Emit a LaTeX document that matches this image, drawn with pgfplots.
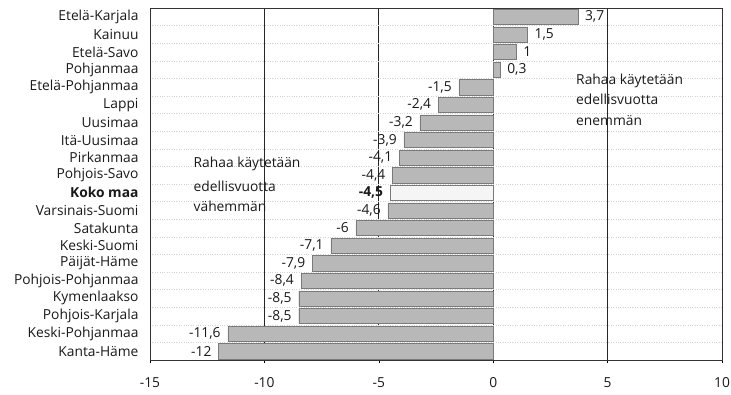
\documentclass[border=0pt]{standalone}
\usepackage{pgfplots}
\pgfplotsset{compat=1.18}
\usepackage{pgfplotstable}
\usepackage{fontspec}
\setmainfont{Open Sans}
\pgfplotstableread{
y x lab
0 3.7 {3,7}
1 1.5 {1,5}
2 1 {1}
3 0.3 {0,3}
}\pos
\pgfplotstableread{
y x lab
4 -1.5 {-1,5}
5 -2.4 {-2,4}
6 -3.2 {-3,2}
7 -3.9 {-3,9}
8 -4.1 {-4,1}
9 -4.4 {-4,4}
11 -4.6 {-4,6}
12 -6 {-6}
13 -7.1 {-7,1}
14 -7.9 {-7,9}
15 -8.4 {-8,4}
16 -8.5 {-8,5}
17 -8.5 {-8,5}
18 -11.6 {-11,6}
19 -12 {-12}
}\neg
\pgfplotstableread{
y x lab
10 -4.5 {-4,5}
}\koko
\definecolor{barfill}{HTML}{B8B8B8}
\definecolor{barline}{HTML}{7A7A7A}
\newcommand{\fs}{\fontsize{13.8}{15}\selectfont}
\begin{document}
\begin{tikzpicture}
\path[use as bounding box] (-150pt,-34pt) rectangle (581pt,360pt);
\begin{axis}[
  at={(0pt,0pt)}, anchor=south west,
  scale only axis, width=572pt, height=352pt,
  xmin=-15, xmax=10, ymin=-0.5, ymax=19.5,
  y dir=reverse,
  xbar, bar width=0.86, bar shift=0pt,
  xtick={-15,-10,-5,0,5,10},
  xticklabels={-15,-10,-5,0,5,10},
  ytick={0,...,19},
  yticklabels={Etelä-Karjala,Kainuu,Etelä-Savo,Pohjanmaa,Etelä-Pohjanmaa,Lappi,Uusimaa,Itä-Uusimaa,Pirkanmaa,Pohjois-Savo,{\bfseries Koko maa},Varsinais-Suomi,Satakunta,Keski-Suomi,Päijät-Häme,Pohjois-Pohjanmaa,Kymenlaakso,Pohjois-Karjala,Keski-Pohjanmaa,Kanta-Häme},
  minor ytick={0.5,1.5,...,18.5},
  yminorgrids, xmajorgrids,
  minor grid style={gray!35, dotted, line width=0.6pt},
  major grid style={black!85, line width=0.7pt},
  y tick style={draw=none},
  minor y tick style={draw=none},
  x tick style={black, line width=0.6pt},
  xtick pos=bottom, tick align=outside, major tick length=3pt,
  axis line style={black!80, line width=0.7pt},
  tick label style={font=\fs, text=black!90},
  yticklabel style={xshift=-5pt},
  xticklabel style={yshift=-11pt},
  point meta=explicit symbolic,
  nodes near coords,
]
\addplot[fill=barfill, draw=barline, line width=0.4pt, nodes near coords style={font=\fs, text=black!90, inner sep=2pt, anchor=west, xshift=5pt}] table[x=x, y=y, meta=lab] {\pos};
\addplot[fill=barfill, draw=barline, line width=0.4pt, nodes near coords style={font=\fs, text=black!90, inner sep=2pt, anchor=east, xshift=-5pt}] table[x=x, y=y, meta=lab] {\neg};
\addplot[fill=gray!8, draw=barline, line width=0.4pt, nodes near coords style={font=\fs\bfseries, text=black!90, inner sep=2pt, anchor=east, xshift=-5pt}] table[x=x, y=y, meta=lab] {\koko};
\node[anchor=base west, font=\fs, text=black!90, inner sep=0pt] at (axis cs:-13.1,8.59) {Rahaa käytetään};
\node[anchor=base west, font=\fs, text=black!90, inner sep=0pt] at (axis cs:-13.1,9.90) {edellisvuotta};
\node[anchor=base west, font=\fs, text=black!90, inner sep=0pt] at (axis cs:-13.1,11.09) {vähemmän};
\node[anchor=base west, font=\fs, text=black!90, inner sep=0pt] at (axis cs:3.62,3.82) {Rahaa käytetään};
\node[anchor=base west, font=\fs, text=black!90, inner sep=0pt] at (axis cs:3.62,5.01) {edellisvuotta};
\node[anchor=base west, font=\fs, text=black!90, inner sep=0pt] at (axis cs:3.62,6.15) {enemmän};
\end{axis}
\end{tikzpicture}
\end{document}
